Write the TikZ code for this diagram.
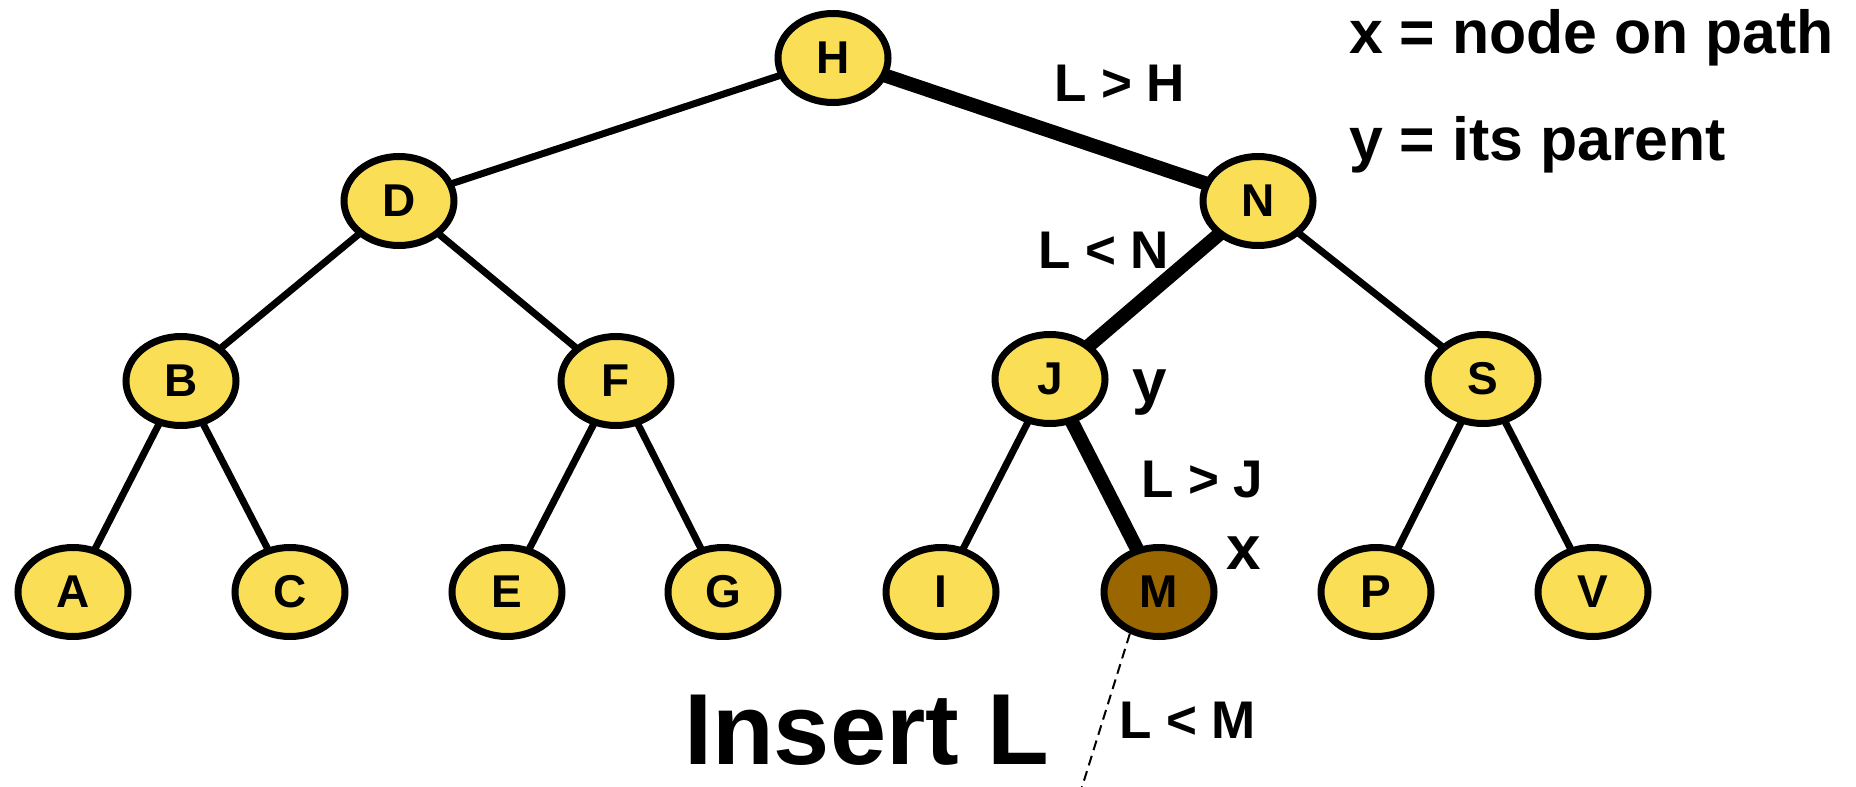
\documentclass[tikz,border=0pt]{standalone}
\usepackage{fontspec}
\setmainfont{Liberation Sans}
\usetikzlibrary{shapes.geometric,backgrounds}
\definecolor{nodeyellow}{RGB}{250,222,85}
\definecolor{nodebrown}{RGB}{153,102,0}
\begin{document}
\begin{tikzpicture}[x=1pt,y=-1pt,
  tnode/.style={ellipse,draw=black,line width=7pt,fill=nodeyellow,minimum width=110pt,minimum height=89pt,inner sep=0pt,font=\fontsize{46}{50}\selectfont\bfseries},
  curnode/.style={tnode,fill=nodebrown},
  edge/.style={line width=7pt},
  pathedge/.style={line width=14pt},
  lbl/.style={inner sep=0pt,anchor=base west,font=\fontsize{53}{60}\selectfont\bfseries},
  xylbl/.style={inner sep=0pt,anchor=base west,font=\fontsize{62}{70}\selectfont\bfseries},
  legend/.style={inner sep=0pt,anchor=base west,font=\fontsize{60.8}{66}\selectfont\bfseries},
  title/.style={inner sep=0pt,anchor=base west,font=\fontsize{101}{110}\selectfont\bfseries},
  probe/.style={dashed,line width=2pt,dash pattern=on 10pt off 6pt}
]
\useasboundingbox (0,0) rectangle (1856,787);
% nodes
\node[tnode] (H) at (833,58) {H};
\node[tnode] (D) at (399,201) {D};
\node[tnode] (N) at (1258,201) {N};
\node[tnode] (B) at (181,381) {B};
\node[tnode] (F) at (616,381) {F};
\node[tnode] (J) at (1050,379) {J};
\node[tnode] (S) at (1483,379) {S};
\node[tnode] (A) at (73,592) {A};
\node[tnode] (C) at (290,592) {C};
\node[tnode] (E) at (507,592) {E};
\node[tnode] (G) at (723,592) {G};
\node[tnode] (I) at (941,592) {I};
\node[curnode] (M) at (1159,592) {M};
\node[tnode] (P) at (1376,592) {P};
\node[tnode] (V) at (1593,592) {V};
\coordinate (dashend) at (1082,787);
% edges
\begin{scope}[on background layer]
\draw[edge] (H.center) -- (D.center);
\draw[pathedge] (H.center) -- (N.center);
\draw[edge] (D.center) -- (B.center);
\draw[edge] (D.center) -- (F.center);
\draw[pathedge] (N.center) -- (J.center);
\draw[edge] (N.center) -- (S.center);
\draw[edge] (B.center) -- (A.center);
\draw[edge] (B.center) -- (C.center);
\draw[edge] (F.center) -- (E.center);
\draw[edge] (F.center) -- (G.center);
\draw[edge] (J.center) -- (I.center);
\draw[pathedge] (J.center) -- (M.center);
\draw[edge] (S.center) -- (P.center);
\draw[edge] (S.center) -- (V.center);
\draw[probe] (M.235) -- (dashend);
\end{scope}
% labels
\node[lbl] (lH) at (1054,101) {L > H};
\node[lbl] (lN) at (1038,268) {L < N};
\node[lbl] (lJ) at (1141,497) {L > J};
\node[lbl] (lM) at (1119,738) {L < M};
\node[xylbl] (ly) at (1132,402) {y};
\node[xylbl] (lx) at (1226,569) {x};
\node[legend] (leg1) at (1349,53) {x = node on path};
\node[legend] (leg2) at (1349,160) {y = its parent};
\node[title] (ins) at (684,764) {Insert L};
\end{tikzpicture}
\end{document}
